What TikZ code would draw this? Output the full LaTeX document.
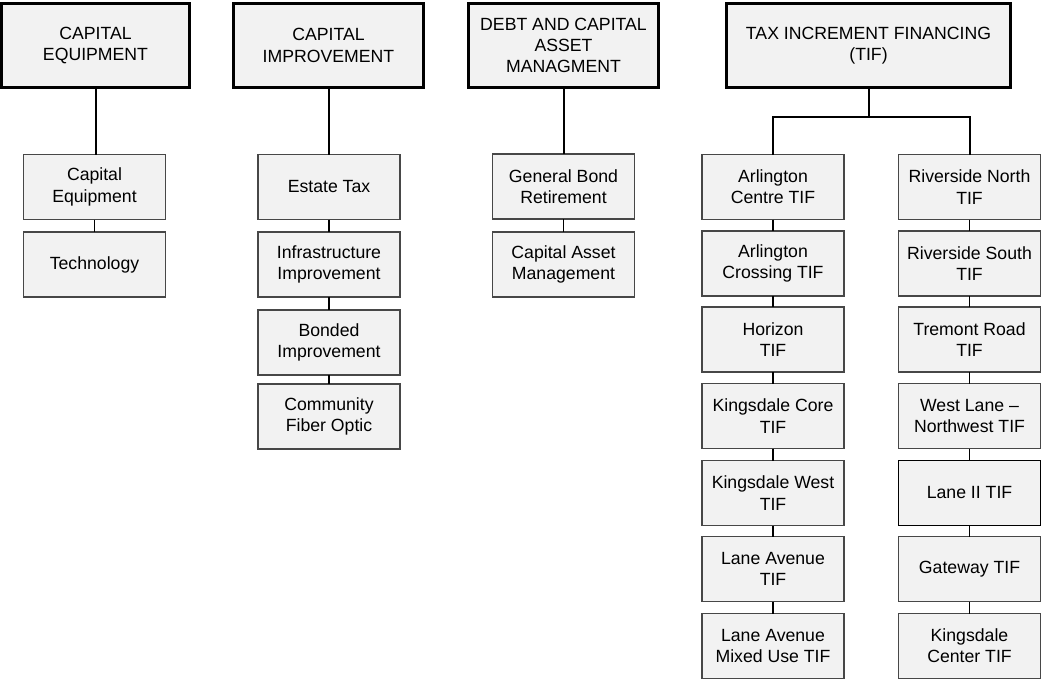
\documentclass[tikz,border=0pt]{standalone}
\usepackage{fontspec}
\setmainfont{Liberation Sans}
\begin{document}
\begin{tikzpicture}[x=0.75pt,y=-0.75pt,
  every node/.style={font=\fontsize{13.25pt}{16pt}\selectfont, align=center, inner sep=0pt, outer sep=0pt},
  head/.style={draw=black, line width=2.25pt, fill=black!5, minimum height=63pt},
  item/.style={draw=black!72, line width=0.8pt, fill=black!5, minimum width=106.5pt, minimum height=48.75pt},
  strong/.style={draw=black, line width=1pt},
  trunk/.style={line width=1.5pt},
  link/.style={line width=1.1pt}]
\useasboundingbox (0,0) rectangle (1061,682);

% department headings
\node[head, minimum width=141pt] (ce) at (95.5,45.5) {CAPITAL\\EQUIPMENT};
\node[head, minimum width=142.5pt] (ci) at (328.5,45.5) {CAPITAL\\IMPROVEMENT};
\node[head, minimum width=142.5pt] (dc) at (563.5,45.5) {DEBT AND CAPITAL\\ASSET\\MANAGMENT};
\node[head, minimum width=213pt] (tif) at (868.5,45.5) {TAX INCREMENT FINANCING\\(TIF)};

% capital equipment funds
\node[item] (ce1) at (94.5,187) {Capital\\Equipment};
\node[item] (ce2) at (94.5,264.5) {Technology};

% capital improvement funds
\node[item] (ci1) at (329,187) {Estate Tax};
\node[item] (ci2) at (329,264.5) {Infrastructure\\Improvement};
\node[item] (ci3) at (329,342.5) {Bonded\\Improvement};
\node[item] (ci4) at (329,416.5) {Community\\Fiber Optic};

% debt and capital asset funds
\node[item] (dc1) at (563.5,186.5) {General Bond\\Retirement};
\node[item] (dc2) at (563.5,264.5) {Capital Asset\\Management};

% TIF districts, left column
\node[item] (tl1) at (773,187) {Arlington\\Centre TIF};
\node[item] (tl2) at (773,263.5) {Arlington\\Crossing TIF};
\node[item] (tl3) at (773,339.5) {Horizon\\TIF};
\node[item] (tl4) at (773,416) {Kingsdale Core\\TIF};
\node[item] (tl5) at (773,493) {Kingsdale West\\TIF};
\node[item] (tl6) at (773,569) {Lane Avenue\\TIF};
\node[item] (tl7) at (773,646) {Lane Avenue\\Mixed Use TIF};

% TIF districts, right column
\node[item] (tr1) at (969.5,187) {Riverside North\\TIF};
\node[item] (tr2) at (969.5,263.5) {Riverside South\\TIF};
\node[item] (tr3) at (969.5,339.5) {Tremont Road\\TIF};
\node[item] (tr4) at (969.5,416) {West Lane –\\Northwest TIF};
\node[item, strong] (tr5) at (969.5,493) {Lane II TIF};
\node[item] (tr6) at (969.5,569) {Gateway TIF};
\node[item] (tr7) at (969.5,646) {Kingsdale\\Center TIF};

% heading to first fund
\draw[trunk] (ce.south) -- (ce.south |- ce1.north);
\draw[trunk] (ci.south) -- (ci.south |- ci1.north);
\draw[trunk] (dc.south) -- (dc.south |- dc1.north);

% TIF split into two columns
\coordinate (split) at (868.5,117);
\draw[trunk] (tif.south) -- (split);
\draw[trunk] (tl1.north) |- (split) -| (tr1.north);

% links within each column
\draw[link] (ce1) -- (ce2);
\draw[link] (ci1) -- (ci2);
\draw[link] (ci2) -- (ci3);
\draw[link] (ci3) -- (ci4);
\draw[link] (dc1) -- (dc2);
\foreach \a/\b in {1/2,2/3,3/4,4/5,5/6,6/7} {
  \draw[link] (tl\a) -- (tl\b);
  \draw[link] (tr\a) -- (tr\b);
}
\end{tikzpicture}
\end{document}
